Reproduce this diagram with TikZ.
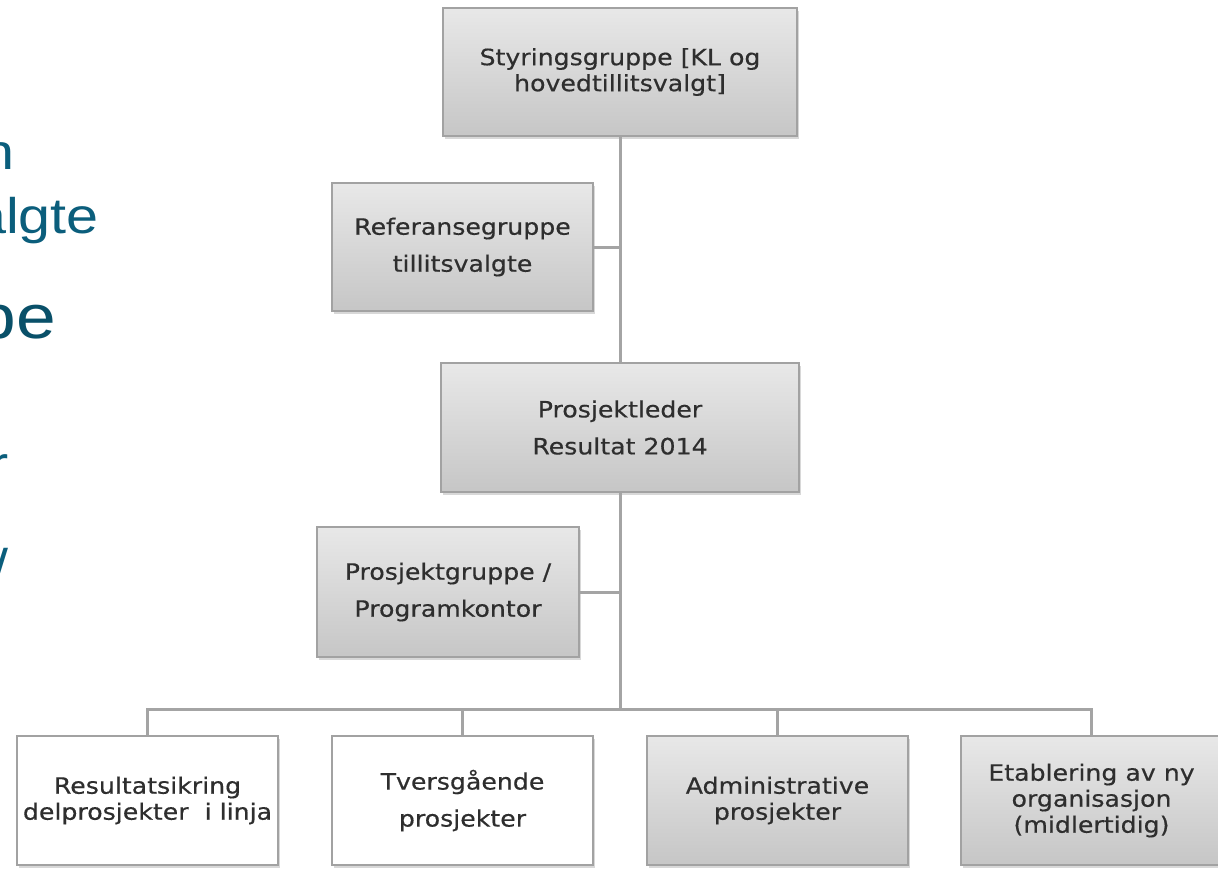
\documentclass[tikz,border=0pt]{standalone}
\usepackage{fontspec}
\setmainfont{DejaVu Sans}
\newfontfamily\boxfont{DejaVu Sans}[FakeStretch=1.12,FakeBold=0.4]
\newfontfamily\slidefont{Liberation Sans}[FakeStretch=1.15]
\usetikzlibrary{shadows}
\definecolor{gtop}{HTML}{E8E8E8}
\definecolor{gbot}{HTML}{C6C6C6}
\definecolor{bordergray}{HTML}{A2A2A2}
\definecolor{linegray}{HTML}{A4A4A4}
\definecolor{txtgray}{HTML}{2E2E2E}
\definecolor{teal}{HTML}{0B5E7C}
\tikzset{
  basebox/.style={draw=bordergray, line width=1.3pt, align=center, inner sep=0pt,
    text=txtgray, drop shadow={shadow xshift=1.5pt, shadow yshift=-2.5pt, opacity=0.3}},
  graybox/.style={basebox, top color=gtop, bottom color=gbot},
  whitebox/.style={basebox, fill=white},
  tight/.style={font=\boxfont\fontsize{22.5}{26}\selectfont},
  loose/.style={font=\boxfont\fontsize{22.5}{37}\selectfont},
  conn/.style={draw=linegray, line width=3pt},
  frag/.style={font=\slidefont\fontsize{50}{56}\selectfont, text=teal, inner sep=0pt, anchor=base east}
}
\begin{document}
\begin{tikzpicture}[x=1pt,y=-1pt]
\useasboundingbox (0,0) rectangle (1218,868);
\fill[white] (0,0) rectangle (1218,868);

% slide text fragments (cut off at the left edge, as in the reference)
\node[frag] (f1) at (15,169) {n};
\node[frag] (f2) at (99,233) {algte};
\node[frag, font=\slidefont\fontsize{62}{68}\selectfont, text=teal!85!black] (f3) at (56,338) {be};
\node[frag] (f4) at (9,481) {r};
\node[frag] (f5) at (9,584) {/};

% boxes
\node[graybox, tight, minimum width=354pt, minimum height=128pt] (styr) at (620,72)
  {Styringsgruppe [KL og\\hovedtillitsvalgt]};
\node[graybox, loose, minimum width=261pt, minimum height=128pt] (ref) at (462.5,247)
  {Referansegruppe\\tillitsvalgte};
\node[graybox, loose, minimum width=358pt, minimum height=129pt] (pl) at (620,427.5)
  {Prosjektleder\\Resultat 2014};
\node[graybox, loose, minimum width=262pt, minimum height=130pt] (pg) at (448,592)
  {Prosjektgruppe /\\Programkontor};

\node[whitebox, tight, minimum width=261pt, minimum height=129pt] (b1) at (147.5,800.5)
  {Resultatsikring\\delprosjekter\ \ i linja};
\node[whitebox, loose, minimum width=261pt, minimum height=129pt] (b2) at (462.5,800.5)
  {Tversgående\\prosjekter};
\node[graybox, tight, minimum width=261pt, minimum height=129pt] (b3) at (777.5,800.5)
  {Administrative\\prosjekter};
\node[graybox, tight, minimum width=261pt, minimum height=129pt] (b4) at (1091.5,800.5)
  {Etablering av ny\\organisasjon\\(midlertidig)};

\coordinate (bus) at (620,709);

% connectors
\draw[conn] (styr.south) -- (pl.north);
\draw[conn] (ref.east) -- (ref.east -| styr.south);
\draw[conn] (pl.south) -- (bus);
\draw[conn] (pg.east) -- (pg.east -| pl.south);
\draw[conn] (b1.north) |- (bus) -| (b4.north);
\draw[conn] (b2.north) -- (b2.north |- bus);
\draw[conn] (b3.north) -- (b3.north |- bus);
\end{tikzpicture}
\end{document}
